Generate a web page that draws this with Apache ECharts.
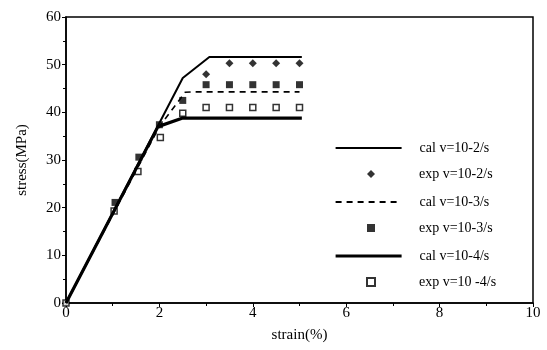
<!DOCTYPE html>
<html><head><meta charset="utf-8">
<script src="https://cdn.jsdelivr.net/npm/echarts@6/dist/echarts.min.js"></script>
<style>html,body{margin:0;padding:0;background:#fff}#c{width:547px;height:350px}</style>
</head><body><div id="c"></div>
<script>
var xTicks = [0, 2, 4, 6, 8, 10];
var yTicks = [0, 10, 20, 30, 40, 50, 60];
var calV2 = [[0, 0], [2.5, 47.2], [3.07, 51.6], [5.05, 51.6]];
var calV3 = [[0, 0], [2.0, 37.0], [2.55, 44.2], [2.7, 44.3], [5.0, 44.3]];
var calV4 = [[0, 0], [1.97, 37.0], [2.5, 38.8], [5.05, 38.8]];
var expV2 = [[0, 0], [3.0, 48.0], [3.5, 50.3], [4.0, 50.3], [4.5, 50.3], [5.0, 50.3]];
var expV3 = [[1.05, 21.1], [1.56, 30.6], [2.0, 37.4], [2.5, 42.5], [3.0, 45.8], [3.5, 45.8], [4.0, 45.8], [4.5, 45.8], [5.0, 45.8]];
var expV4 = [[0, 0], [1.03, 19.3], [1.54, 27.6], [2.02, 34.7], [2.5, 39.8], [3.0, 41.0], [3.5, 41.0], [4.0, 41.0], [4.5, 41.0], [5.0, 41.0]];
var names = ['cal v=10-2/s', 'exp v=10-2/s', 'cal v=10-3/s', 'exp v=10-3/s', 'cal v=10-4/s', 'exp v=10 -4/s'];

var font = 'Liberation Serif';
var legText = {fontFamily: font, fontSize: 14, color: '#000', lineHeight: 16};
var chart = echarts.init(document.getElementById('c'));
chart.setOption({
  animation: false,
  backgroundColor: '#fff',
  textStyle: {fontFamily: font},
  grid: {left: 66, right: 14, top: 17, bottom: 47, show: true, borderColor: '#000', borderWidth: 1.5},
  legend: [
    {
      orient: 'vertical', left: 329, top: 135, itemWidth: 66, itemHeight: 10, itemGap: 38,
      textStyle: Object.assign({padding: [0, 0, 0, 13]}, legText),
      data: [
        {name: names[0], itemStyle: {opacity: 0}},
        {name: names[2], itemStyle: {opacity: 0}},
        {name: names[4], itemStyle: {opacity: 0}, lineStyle: {width: 3.2}}
      ]
    },
    {
      orient: 'vertical', left: 361, top: 161, itemWidth: 8, itemHeight: 8, itemGap: 38,
      textStyle: Object.assign({padding: [0, 0, 0, 39]}, legText),
      data: [names[1], names[3], names[5]]
    }
  ],
  xAxis: {
    type: 'value', min: 0, max: 10, interval: 2,
    name: 'strain(%)', nameLocation: 'middle', nameGap: 25,
    nameTextStyle: {fontFamily: font, fontSize: 15, color: '#000'},
    axisLine: {lineStyle: {color: '#000', width: 1.5}},
    axisTick: {length: 4, lineStyle: {color: '#000'}},
    minorTick: {show: true, splitNumber: 2, length: 3, lineStyle: {color: '#000'}},
    splitLine: {show: false},
    axisLabel: {fontFamily: font, fontSize: 15, color: '#000', margin: 3,
      formatter: function (v) { return xTicks.indexOf(v) >= 0 ? String(v) : ''; }}
  },
  yAxis: {
    type: 'value', min: 0, max: 60, interval: 10,
    name: 'stress(MPa)', nameLocation: 'middle', nameGap: 36,
    nameTextStyle: {fontFamily: font, fontSize: 15, color: '#000'},
    axisLine: {lineStyle: {color: '#000', width: 1.5}},
    axisTick: {length: 4, lineStyle: {color: '#000'}},
    minorTick: {show: true, splitNumber: 2, length: 3, lineStyle: {color: '#000'}},
    splitLine: {show: false},
    axisLabel: {fontFamily: font, fontSize: 15, color: '#000', margin: 5,
      formatter: function (v) { return yTicks.indexOf(v) >= 0 ? String(v) : ''; }}
  },
  series: [
    {name: names[0], type: 'line', data: calV2, showSymbol: false, symbol: 'none', color: '#000', lineStyle: {color: '#000', width: 2}},
    {name: names[1], type: 'scatter', data: expV2, symbol: 'diamond', symbolSize: 8, itemStyle: {color: '#000'}},
    {name: names[2], type: 'line', data: calV3, showSymbol: false, symbol: 'none', color: '#000', lineStyle: {color: '#000', width: 1.6, type: [6, 5]}},
    {name: names[3], type: 'scatter', data: expV3, symbol: 'rect', symbolSize: 7, itemStyle: {color: '#000'}},
    {name: names[4], type: 'line', data: calV4, showSymbol: false, symbol: 'none', color: '#000', lineStyle: {color: '#000', width: 3.2}},
    {name: names[5], type: 'scatter', data: expV4, symbol: 'rect', symbolSize: 6, itemStyle: {color: '#fff', borderColor: '#000', borderWidth: 1.5}}
  ]
});
</script></body></html>
